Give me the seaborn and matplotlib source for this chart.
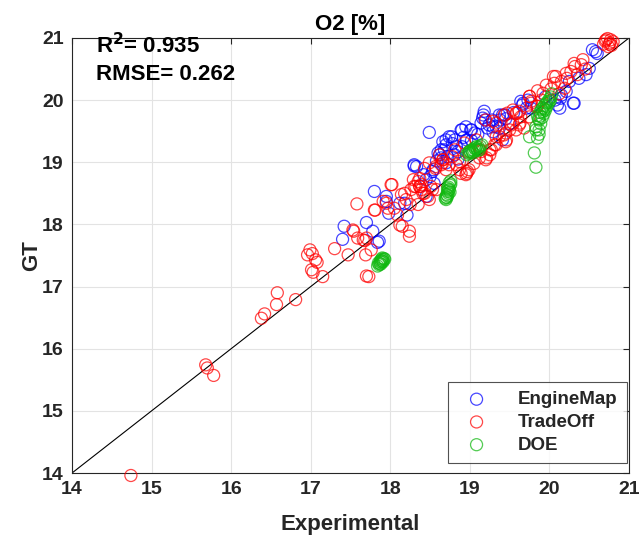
import numpy as np
import matplotlib
matplotlib.use('Agg')
import matplotlib.pyplot as plt
import seaborn as sns

# ----------------- Data -----------------#

groups = ['EngineMap', 'TradeOff', 'DOE']
colors = ['#0000ff', '#ff0000', '#10b810']

engine_x = [17.42, 17.40, 17.70, 17.80, 17.78, 17.86, 17.95, 17.98, 18.18, 18.21,
            18.30, 18.45, 18.53, 18.55, 18.62, 18.72, 18.49, 18.30, 18.89, 19.16,
            19.18, 19.01, 19.14, 19.37, 19.33, 19.66, 19.73, 19.77, 18.70, 18.74,
            18.81, 18.85, 18.60, 18.64, 18.95, 19.06, 19.24, 19.41, 18.68, 18.78,
            18.90, 18.66, 18.92, 18.58, 19.02, 19.10, 19.22, 19.28, 19.45, 19.55,
            20.54, 20.60, 20.58, 20.46, 20.50, 20.37, 20.21, 20.31, 20.10, 20.14,
            19.64, 19.41, 19.29, 19.37, 17.84, 18.42, 18.85, 19.50, 19.95, 20.25,
            18.77, 18.90, 18.70, 18.64, 18.83, 18.96, 19.02, 19.17, 19.19, 19.29,
            19.44, 19.38, 18.81, 18.70, 18.54, 18.33, 18.50, 17.95, 18.12, 18.45,
            19.67, 19.71, 20.15, 20.30, 20.13, 20.07]
engine_y = [17.97, 17.76, 18.03, 18.53, 17.89, 17.73, 18.37, 18.18, 18.34, 18.15,
            18.96, 18.72, 18.85, 18.66, 19.12, 19.09, 19.48, 18.94, 19.52, 19.71,
            19.82, 19.52, 19.63, 19.76, 19.57, 19.92, 20.00, 19.87, 19.28, 19.41,
            19.36, 19.17, 19.15, 19.07, 19.57, 19.47, 19.60, 19.36, 19.20, 19.30,
            19.25, 19.33, 19.40, 19.02, 19.35, 19.45, 19.55, 19.68, 19.70, 19.80,
            20.81, 20.75, 20.78, 20.41, 20.51, 20.35, 20.14, 19.95, 19.92, 20.03,
            19.98, 19.76, 19.49, 19.55, 17.71, 18.80, 19.05, 19.62, 20.05, 20.30,
            19.41, 19.52, 19.36, 19.20, 19.25, 19.36, 19.52, 19.76, 19.68, 19.57,
            19.76, 19.68, 19.12, 18.99, 18.88, 18.93, 18.77, 18.45, 18.34, 18.45,
            19.95, 19.87, 20.08, 19.95, 19.87, 20.00]

trade_x = [14.74, 15.68, 15.70, 15.78, 16.38, 16.42, 16.57, 16.58, 16.81, 16.99,
           17.02, 16.96, 17.06, 17.08, 17.03, 17.01, 17.15, 17.30, 17.47, 17.58,
           17.80, 17.54, 17.59, 17.68, 17.69, 17.73, 17.53, 17.66, 17.70, 17.76,
           17.70, 17.81, 17.91, 18.01, 17.97, 18.05, 18.09, 18.14, 18.12, 18.15,
           18.24, 18.24, 18.25, 18.35, 18.26, 18.35, 18.32, 18.37, 18.39, 18.43,
           18.47, 18.53, 18.49, 18.57, 18.66, 18.70, 18.83, 18.97, 18.37, 18.57,
           18.66, 18.78, 18.74, 18.87, 18.89, 19.20, 19.14, 19.27, 19.33, 19.37,
           19.45, 19.54, 19.43, 19.58, 19.64, 19.54, 19.75, 19.77, 19.29, 19.20,
           19.08, 18.99, 18.93, 18.81, 18.62, 18.64, 18.49, 18.43, 18.39, 18.51,
           18.30, 18.18, 19.12, 19.45, 19.58, 19.62, 20.42, 20.40, 20.27, 20.31,
           20.35, 20.08, 20.06, 20.19, 19.96, 19.92, 19.75, 19.77, 19.62, 19.47,
           19.33, 19.52, 19.43, 20.02, 20.15, 20.22, 20.12, 19.85, 19.90, 20.70,
           20.73, 20.76, 20.78, 20.68, 20.74, 20.80, 20.71, 20.77, 20.75, 19.05,
           19.25, 18.95, 19.68, 19.85, 20.45,
           18.66, 18.87, 18.99, 19.21, 19.25, 19.31, 19.46, 19.50, 19.59, 19.63,
           19.75, 19.84, 20.05, 20.21, 20.32, 18.29, 18.37, 18.41, 18.20, 18.02,
           17.95, 18.58, 18.96, 19.13, 19.33]
trade_y = [13.96, 15.74, 15.69, 15.57, 16.49, 16.56, 16.71, 16.90, 16.79, 17.59,
           17.53, 17.51, 17.43, 17.39, 17.23, 17.27, 17.16, 17.61, 17.51, 18.33,
           18.23, 17.89, 17.78, 17.74, 17.51, 17.16, 17.91, 17.75, 17.78, 17.59,
           17.17, 18.23, 18.37, 18.64, 18.26, 18.26, 18.15, 18.48, 17.99, 17.97,
           17.89, 17.81, 18.32, 18.32, 18.56, 18.69, 18.61, 18.61, 18.64, 18.50,
           18.45, 18.56, 18.40, 18.93, 18.99, 18.88, 18.96, 18.85, 18.74, 18.90,
           19.04, 19.09, 18.96, 19.01, 18.82, 19.04, 19.17, 19.20, 19.28, 19.41,
           19.47, 19.63, 19.76, 19.79, 19.73, 19.84, 20.06, 19.95, 19.66, 19.68,
           19.36, 19.17, 19.31, 19.20, 19.12, 18.96, 18.99, 18.90, 18.56, 18.61,
           18.61, 18.50, 19.07, 19.33, 19.52, 19.60, 20.65, 20.57, 20.46, 20.59,
           20.41, 20.38, 20.27, 20.19, 20.24, 20.11, 20.06, 19.98, 19.82, 19.79,
           19.63, 19.60, 19.44, 20.18, 20.30, 20.35, 20.10, 20.15, 20.00, 20.95,
           20.99, 20.92, 20.88, 20.90, 20.86, 20.94, 20.97, 20.97, 20.90, 18.98,
           19.12, 18.80, 19.55, 19.90, 20.50,
           19.04, 18.88, 18.88, 19.07, 19.20, 19.28, 19.36, 19.52, 19.79, 19.63,
           19.73, 19.90, 20.38, 20.43, 20.54, 18.72, 18.61, 18.50, 18.40, 18.64,
           18.34, 18.56, 18.82, 19.20, 19.41]

doe_x = [17.85, 17.87, 17.88, 17.89, 17.90, 17.91, 17.86, 17.88, 17.92, 17.89,
         17.84, 17.90, 17.87, 17.91, 17.93,
         18.70, 18.71, 18.72, 18.73, 18.72, 18.74, 18.73, 18.75, 18.74, 18.76,
         18.70, 18.71, 18.75, 18.72, 18.69, 18.73, 18.76,
         18.96, 18.99, 19.01, 19.03, 19.05, 19.07, 19.09, 19.11, 19.13, 19.00,
         19.04, 19.08, 19.12, 19.06, 19.15, 18.98, 19.02, 19.10,
         19.85, 19.88, 19.90, 19.92, 19.94, 19.96, 19.98, 20.00, 20.02, 19.87,
         19.89, 19.91, 19.93, 19.95, 19.97, 19.99, 20.03, 19.86, 19.92, 19.94,
         19.88, 20.01,
         19.83, 19.87, 19.83, 19.85, 19.75, 19.81, 19.83, 19.87]
doe_y = [17.38, 17.40, 17.42, 17.44, 17.41, 17.43, 17.35, 17.36, 17.45, 17.39,
         17.33, 17.46, 17.37, 17.40, 17.44,
         18.40, 18.43, 18.46, 18.50, 18.53, 18.56, 18.60, 18.63, 18.67, 18.70,
         18.44, 18.48, 18.52, 18.58, 18.42, 18.55, 18.65,
         19.12, 19.14, 19.16, 19.17, 19.19, 19.21, 19.22, 19.24, 19.26, 19.18,
         19.15, 19.25, 19.20, 19.23, 19.28, 19.16, 19.20, 19.19,
         19.75, 19.80, 19.85, 19.88, 19.92, 19.95, 19.98, 20.02, 20.05, 19.68,
         19.62, 19.72, 19.78, 19.84, 19.90, 19.96, 20.10, 19.70, 19.82, 19.86,
         19.74, 19.99,
         19.57, 19.52, 19.52, 19.39, 19.41, 19.15, 18.92, 19.45]

r2 = 0.935
rmse = 0.262
lims = [14, 21]
ticks = [14, 15, 16, 17, 18, 19, 20, 21]

# ----------------- Plot -----------------#

sns.set_theme(style='whitegrid')
plt.rcParams['font.family'] = ['Liberation Sans', 'DejaVu Sans']
plt.rcParams['font.weight'] = 'bold'

fig = plt.figure(figsize=(6.39, 5.42), dpi=100)
ax = fig.add_axes([0.1127, 0.1273, 0.8717, 0.8027])

series = [(engine_x, engine_y), (trade_x, trade_y), (doe_x, doe_y)]
for name, col, (xs, ys) in zip(groups, colors, series):
    sns.scatterplot(x=xs, y=ys, ax=ax, marker='o', s=75, color=col,
                    facecolor='none', edgecolor=col, linewidth=0.9,
                    alpha=0.72, label=name, clip_on=False, zorder=3)

ax.plot(lims, lims, color='black', linewidth=0.8, zorder=2)

ax.set_xlim(lims)
ax.set_ylim(lims)
ax.set_xticks(ticks)
ax.set_yticks(ticks)
ax.grid(True, color='#e3e3e3', linewidth=0.8)
ax.set_axisbelow(True)
for sp in ax.spines.values():
    sp.set_color('#262626')
    sp.set_linewidth(0.8)
ax.tick_params(direction='in', length=4, width=0.8, top=True, right=True,
               labelsize=14, colors='#262626', pad=6)
for lab in ax.get_xticklabels() + ax.get_yticklabels():
    lab.set_fontweight('bold')

ax.set_title('O2 [%]', fontsize=16, fontweight='bold', color='black', pad=6)
ax.set_xlabel('Experimental', fontsize=16, fontweight='bold', color='#262626',
              labelpad=11)
ax.set_ylabel('GT', fontsize=16, fontweight='bold', color='#262626', labelpad=0)

ax.text(0.043, 0.982, r'R$^\mathbf{2}$= %.3f' % r2, transform=ax.transAxes,
        fontsize=16, fontweight='bold', va='center', ha='left', color='black')
ax.text(0.043, 0.915, 'RMSE= %.3f' % rmse, transform=ax.transAxes,
        fontsize=16, fontweight='bold', va='center', ha='left', color='black')

leg = ax.legend(loc='lower right', bbox_to_anchor=(0.996, 0.023),
                borderaxespad=0, fontsize=13.5, frameon=True, fancybox=False,
                handletextpad=1.2, borderpad=0.5, labelspacing=0.3)
leg.get_frame().set_edgecolor('#262626')
leg.get_frame().set_linewidth(0.8)
for t in leg.get_texts():
    t.set_fontweight('bold')

plt.savefig('out.png', dpi=100)
